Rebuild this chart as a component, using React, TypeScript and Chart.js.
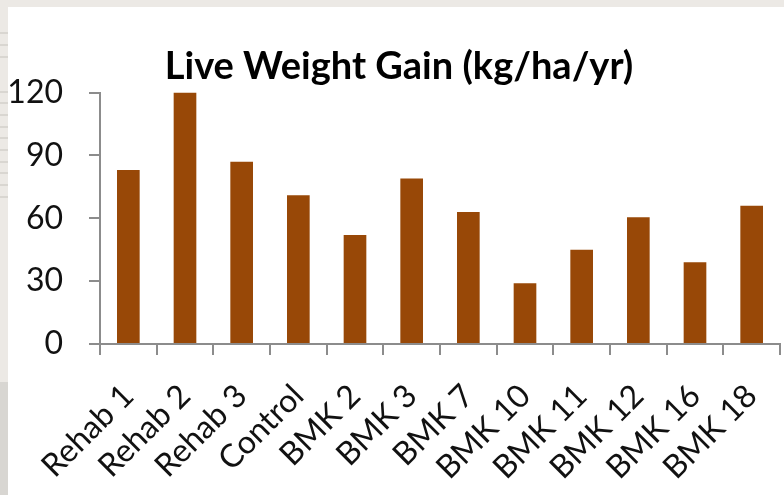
import React, { useEffect, useRef } from 'react';
import { Chart, registerables } from 'chart.js';

Chart.register(...registerables);

// Sites and their live weight gain (kg/ha/yr)
const categories = ['Rehab 1', 'Rehab 2', 'Rehab 3', 'Control', 'BMK 2', 'BMK 3', 'BMK 7', 'BMK 10', 'BMK 11', 'BMK 12', 'BMK 16', 'BMK 18'];
const liveWeightGain = [83, 120, 87, 71, 52, 79, 63, 29, 45, 60.5, 39, 66];
const yTickValues = [0, 30, 60, 90, 120];
const chartTitle = 'Live Weight Gain (kg/ha/yr)';

const W = 784;
const H = 495;
const BAR = '#984807';
const AXIS = '#8C8C8C';
const FONT = 'Lato, "Open Sans", sans-serif';

// stripes on the slide's left margin
const stripeRows = [32, 44, 56, 91, 102, 114, 126, 137, 149, 161, 172, 184, 196];

// nudge the title box so the heading sits a little right of the canvas centre
const titleShift = {
  id: 'titleShift',
  afterLayout(chart: any) {
    const t = chart.titleBlock;
    if (t) {
      t.left += 12;
    }
  },
};

export default function App() {
  const ref = useRef<HTMLCanvasElement | null>(null);

  useEffect(() => {
    if (!ref.current) return;
    const chart = new Chart(ref.current, {
      type: 'bar',
      data: {
        labels: categories,
        datasets: [
          {
            data: liveWeightGain,
            backgroundColor: BAR,
            borderWidth: 0,
            barPercentage: 0.4,
            categoryPercentage: 1.0,
          },
        ],
      },
      plugins: [titleShift],
      options: {
        responsive: false,
        animation: false,
        devicePixelRatio: 1,
        layout: { padding: { left: 6, right: 4, top: 0, bottom: 0 } },
        plugins: {
          legend: { display: false },
          tooltip: { enabled: false },
          title: {
            display: true,
            text: chartTitle,
            color: '#000',
            font: { family: FONT, size: 38, weight: 'bold' },
            padding: { top: 44, bottom: 3 },
          },
        },
        scales: {
          x: {
            afterFit: (scale: any) => {
              scale.height = 151;
              // the rotated labels may overhang the plot edges
              scale.paddingLeft = 0;
              scale.paddingRight = 0;
            },
            grid: {
              display: true,
              offset: true,
              drawOnChartArea: false,
              drawTicks: true,
              tickLength: 11,
              color: AXIS,
              lineWidth: 2,
            },
            border: { display: true, color: AXIS, width: 2 },
            ticks: {
              autoSkip: false,
              minRotation: 45,
              maxRotation: 45,
              padding: 22,
              color: '#111',
              font: { family: FONT, size: 32 },
            },
          },
          y: {
            min: 0,
            max: 120,
            afterFit: (scale: any) => {
              scale.width = 94;
            },
            afterBuildTicks: (scale: any) => {
              scale.ticks = yTickValues.map((v) => ({ value: v }));
            },
            grid: {
              display: true,
              drawOnChartArea: false,
              drawTicks: true,
              tickLength: 11,
              color: AXIS,
              lineWidth: 2,
            },
            border: { display: true, color: AXIS, width: 2 },
            ticks: {
              padding: 26,
              color: '#111',
              font: { family: FONT, size: 32 },
            },
          },
        },
      },
    });
    return () => chart.destroy();
  }, []);

  return (
    <div style={{ position: 'fixed', left: 0, top: 0, width: W, height: H, background: '#ECE9E5', overflow: 'hidden' }}>
      <div style={{ position: 'absolute', left: 0, top: 382, width: 8, height: H - 382, background: '#D8D6D2' }} />
      {stripeRows.map((y) => (
        <div key={y} style={{ position: 'absolute', left: 0, top: y, width: 8, height: 2, background: '#D9D6D1' }} />
      ))}
      <div style={{ position: 'absolute', left: 8, top: 7, width: W - 8, height: H - 7, background: '#FFFFFF' }} />
      <canvas ref={ref} width={W} height={H} style={{ position: 'absolute', left: 0, top: 0, width: W, height: H }} />
    </div>
  );
}
